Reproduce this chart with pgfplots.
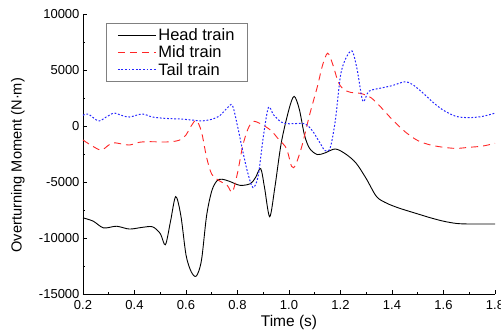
\documentclass[border=0pt]{standalone}
\usepackage{pgfplots}
\pgfplotsset{compat=1.18}
\usepackage{fontspec}
\setmainfont{Liberation Sans}
\begin{document}
\begin{tikzpicture}
\begin{axis}[
  scale only axis,
  width=412pt, height=280pt,
  xmin=0.2, xmax=1.8, ymin=-15000, ymax=10000,
  axis lines*=left,
  axis line style={black, line width=0.8pt},
  tick align=inside,
  major tick length=4pt, minor tick length=2.5pt,
  tick style={black, line width=0.8pt},
  xtick={0.2,0.4,...,1.81},
  ytick={-15000,-10000,...,10000},
  minor x tick num=1, minor y tick num=1,
  /pgf/number format/assume math mode=true,
  xticklabel style={yshift=-3pt, /pgf/number format/.cd, fixed, fixed zerofill, precision=1},
  yticklabel style={/pgf/number format/.cd, 1000 sep={}},
  scaled y ticks=false,
  tick label style={font=\fontsize{13}{15}\selectfont},
  label style={font=\fontsize{15}{18}\selectfont},
  xlabel={Time (s)},
  xlabel style={yshift=1pt, font=\fontsize{15.5}{18}\selectfont},
  ylabel={Overturning Moment (N·m)},
  ylabel style={at={(axis description cs:-0.158,0.46)}, anchor=center, font=\fontsize{14.6}{18}\selectfont},
  legend style={draw=gray, line width=0.6pt, at={(rel axis cs:0.056,0.968)}, anchor=north west,
    font=\fontsize{16.5}{18}\selectfont, cells={anchor=west}, inner xsep=11pt, inner ysep=3pt,
    row sep=0pt},
  legend image code/.code={\draw[#1] (1pt,0pt) -- (39pt,0pt);},
  clip=false,
]
\addplot[black, line width=0.9pt, smooth] coordinates {
(0.20,-8200) (0.24,-8500) (0.28,-9100) (0.33,-8950) (0.38,-9200) (0.43,-9050) (0.47,-9000)
(0.50,-9600) (0.52,-10600) (0.54,-8500) (0.56,-6300) (0.58,-8000) (0.60,-11500) (0.62,-13000)
(0.64,-13400) (0.66,-12000) (0.68,-8000) (0.70,-5800) (0.72,-4900) (0.74,-4750) (0.77,-4950)
(0.81,-5300) (0.85,-5150) (0.87,-4600) (0.89,-3800) (0.905,-5500) (0.925,-8100) (0.945,-5500)
(0.97,-1500) (1.00,1500) (1.02,2650) (1.04,1500) (1.06,-800) (1.08,-2000) (1.11,-2550)
(1.14,-2400) (1.18,-2050) (1.22,-2500) (1.26,-3300) (1.30,-4700) (1.34,-6300) (1.38,-6900)
(1.43,-7350) (1.50,-7850) (1.55,-8200) (1.60,-8500) (1.65,-8700) (1.70,-8750) (1.80,-8750)
};
\addlegendentry{Head train}
\addplot[red!85!white, line width=0.9pt, smooth, dash pattern=on 7pt off 5pt] coordinates {
(0.20,-1250) (0.23,-1700) (0.27,-2150) (0.30,-1700) (0.32,-1500) (0.35,-1600) (0.38,-1700)
(0.42,-1450) (0.46,-1400) (0.52,-1430) (0.56,-1350) (0.58,-1200) (0.60,-800) (0.62,0)
(0.64,500) (0.66,-500) (0.68,-2800) (0.70,-4300) (0.73,-4900) (0.76,-5300) (0.78,-5900)
(0.80,-4200) (0.82,-1800) (0.84,-300) (0.86,400) (0.89,200) (0.93,-400) (0.96,-1200)
(0.99,-2000) (1.01,-3600) (1.025,-3500) (1.05,-1800) (1.08,1000) (1.11,3500) (1.13,5400)
(1.15,6500) (1.17,5500) (1.19,4000) (1.21,3300) (1.24,3000) (1.28,2900) (1.32,2500)
(1.36,1600) (1.40,600) (1.45,-500) (1.50,-1300) (1.55,-1700) (1.60,-1900) (1.65,-2000)
(1.70,-1900) (1.75,-1800) (1.80,-1550)
};
\addlegendentry{Mid train}
\addplot[blue!85!white, line width=1pt, smooth, dash pattern=on 1.8pt off 1.8pt] coordinates {
(0.20,950) (0.22,1070) (0.26,450) (0.29,800) (0.32,1150) (0.35,950) (0.38,800) (0.43,1070)
(0.47,800) (0.52,680) (0.58,620) (0.63,520) (0.66,450) (0.70,600) (0.73,900) (0.76,1600)
(0.78,1850) (0.80,0) (0.82,-2200) (0.84,-4200) (0.86,-5500) (0.88,-4500) (0.90,-1000)
(0.92,1650) (0.94,1000) (0.97,350) (1.00,200) (1.06,200) (1.09,-400) (1.12,-1500)
(1.14,-2200) (1.16,-1950) (1.18,500) (1.20,4500) (1.22,6000) (1.245,6700) (1.265,5000)
(1.287,2200) (1.31,3100) (1.36,3400) (1.40,3600) (1.45,3950) (1.48,3700) (1.52,2950)
(1.56,2100) (1.60,1400) (1.65,850) (1.70,750) (1.75,850) (1.80,1150)
};
\addlegendentry{Tail train}
\coordinate (sw) at (rel axis cs:0,0);
\coordinate (ne) at (rel axis cs:1,1);
\end{axis}
\pgfresetboundingbox
\path ([xshift=-83pt,yshift=-41pt]sw) rectangle ([xshift=6pt,yshift=14pt]ne);
\end{tikzpicture}
\end{document}
